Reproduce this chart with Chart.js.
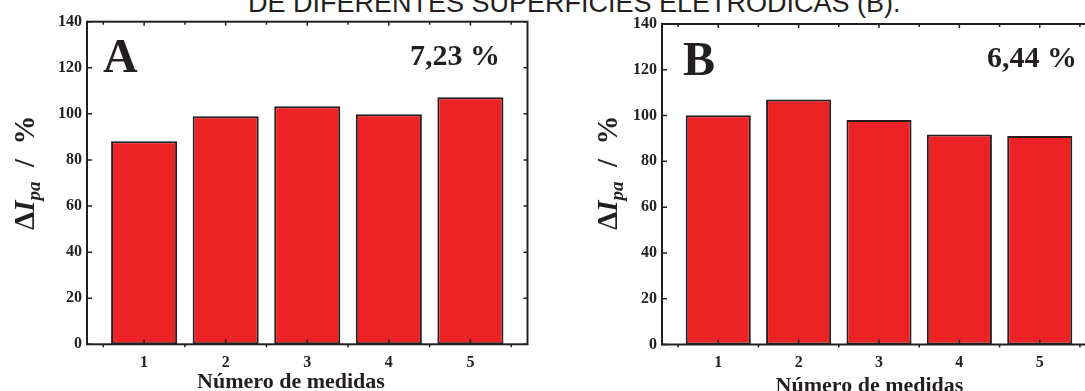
<!DOCTYPE html>
<html>
<head>
<meta charset="utf-8">
<script src="https://cdn.jsdelivr.net/npm/chart.js@4.4.0/dist/chart.umd.min.js"></script>
<style>
    html, body { margin: 0; padding: 0; background: #fff; }
    body { width: 1085px; height: 391px; position: relative; overflow: hidden; }
    #head {
        position: absolute; left: 248px; top: -10px;
        font: 27px/27px "Liberation Sans", Arial, sans-serif;
        color: #231f20; white-space: nowrap;
    }
    .panel { position: absolute; top: 0; height: 391px; }
    #boxA { left: 0; width: 545px; }
    #boxB { left: 545px; width: 560px; }
</style>
</head>
<body>
<div id="head">DE DIFERENTES SUPERFÍCIES ELETRÓDICAS (B).</div>
<div class="panel" id="boxA"><canvas id="chartA"></canvas></div>
<div class="panel" id="boxB"><canvas id="chartB"></canvas></div>

<script>
// numero de medidas (eixo x)
const measures = [1, 2, 3, 4, 5];
// ΔIpa em % para cada medida
const valuesA = [88.1, 99.0, 103.3, 99.8, 107.2];
const valuesB = [100.1, 107.0, 98.1, 91.7, 91.1];
// desvio padrao relativo de cada painel
const rsdA = '7,23 %';
const rsdB = '6,44 %';
const yTicks = [0, 20, 40, 60, 80, 100, 120, 140];

const ink = '#231f20';
const barRed = '#ed2224';
const serif = '"Liberation Serif", "Times New Roman", serif';

// moldura fechada + marcas dos eixos (estilo Origin)
const frameTicks = {
    id: 'frameTicks',
    afterDatasetsDraw(chart) {
        const { ctx, chartArea: a, scales: { x, y } } = chart;
        ctx.save();
        ctx.strokeStyle = ink;
        ctx.lineWidth = 2;
        ctx.strokeRect(a.left, a.top, a.right - a.left, a.bottom - a.top);
        ctx.lineWidth = 1.5;
        ctx.beginPath();
        for (let v = 0.5; v <= 5.5; v += 0.5) {
            const px = x.getPixelForValue(v);
            if (Number.isInteger(v)) {
                ctx.moveTo(px, a.bottom); ctx.lineTo(px, a.bottom - 5);
                ctx.moveTo(px, a.top); ctx.lineTo(px, a.top + 4);
            } else {
                ctx.moveTo(px, a.bottom); ctx.lineTo(px, a.bottom + 3);
                ctx.moveTo(px, a.top); ctx.lineTo(px, a.top + 3);
            }
        }
        yTicks.forEach(v => {
            const py = y.getPixelForValue(v);
            ctx.moveTo(a.left, py); ctx.lineTo(a.left + 5, py);
            ctx.moveTo(a.right, py); ctx.lineTo(a.right - 4, py);
        });
        ctx.stroke();
        ctx.restore();
    }
};

// letra do painel, DPR e titulos dos eixos
const panelText = {
    id: 'panelText',
    afterDraw(chart, args, opts) {
        const ctx = chart.ctx;
        ctx.save();
        ctx.fillStyle = ink;
        ctx.textBaseline = 'alphabetic';

        ctx.font = 'bold 48px ' + serif;
        ctx.textAlign = 'left';
        ctx.fillText(opts.letter, opts.letterX, opts.letterY);

        ctx.font = 'bold 30px ' + serif;
        ctx.textAlign = 'right';
        ctx.fillText(opts.rsd, opts.rsdX, opts.rsdY);

        ctx.font = 'bold 22px ' + serif;
        ctx.textAlign = 'center';
        ctx.fillText('Número de medidas', opts.xTitleX, opts.xTitleY);

        // ΔI_pa / % girado
        ctx.translate(opts.yTitleX, opts.yTitleY);
        ctx.rotate(-Math.PI / 2);
        ctx.textAlign = 'left';
        let u = 0;
        const part = (txt, font, dv) => {
            ctx.font = font;
            ctx.fillText(txt, u, dv);
            u += ctx.measureText(txt).width;
        };
        part('Δ', 'bold 29px ' + serif, 0);
        part('I', 'bold italic 29px ' + serif, 0);
        part('pa', 'bold italic 19px ' + serif, 6);
        part('  /  %', 'bold 29px ' + serif, 0);
        ctx.restore();
    }
};

function buildChart(id, values, geo, text) {
    const tickFont = { family: serif, size: 16, weight: 'bold' };
    return new Chart(document.getElementById(id), {
        type: 'bar',
        data: {
            datasets: [{
                data: values.map((v, i) => ({ x: measures[i], y: v })),
                backgroundColor: barRed,
                borderColor: ink,
                borderWidth: 2,
                borderSkipped: false,
                barPercentage: 0.81,
                categoryPercentage: 1
            }]
        },
        options: {
            responsive: true,
            maintainAspectRatio: false,
            animation: false,
            layout: { padding: { top: geo.top, right: geo.right, bottom: 0, left: 0 } },
            plugins: {
                legend: { display: false },
                tooltip: { enabled: false },
                panelText: text
            },
            scales: {
                x: {
                    type: 'linear',
                    offset: false,
                    min: 0.3,
                    max: 5.7,
                    grid: { display: false, drawTicks: false, offset: false },
                    border: { display: false },
                    afterBuildTicks: s => { s.ticks = measures.map(v => ({ value: v })); },
                    ticks: { font: tickFont, color: ink, padding: 9 },
                    afterFit: s => { s.height = geo.xh; }
                },
                y: {
                    min: 0,
                    max: 140,
                    grid: { display: false, drawTicks: false },
                    border: { display: false },
                    afterBuildTicks: s => { s.ticks = yTicks.map(v => ({ value: v })); },
                    ticks: { font: tickFont, color: ink, padding: 5 },
                    afterFit: s => { s.width = geo.yw; }
                }
            }
        },
        plugins: [frameTicks, panelText]
    });
}

buildChart('chartA', valuesA,
    { top: 21.7, right: 17.5, yw: 87, xh: 46.7 },
    { letter: 'A', letterX: 103, letterY: 72, rsd: rsdA, rsdX: 500, rsdY: 65,
      xTitleX: 291, xTitleY: 388, yTitleX: 34, yTitleY: 230 });

buildChart('chartB', valuesB,
    { top: 24, right: 9, yw: 117, xh: 46.5 },
    { letter: 'B', letterX: 138, letterY: 75, rsd: rsdB, rsdX: 532, rsdY: 67,
      xTitleX: 324.5, xTitleY: 392, yTitleX: 72, yTitleY: 230 });
</script>
</body>
</html>
